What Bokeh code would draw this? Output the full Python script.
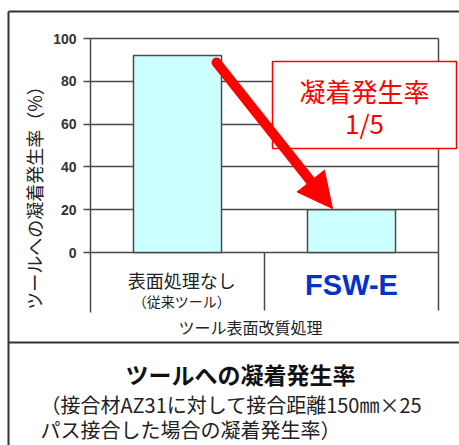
import math
from bokeh.plotting import figure
from bokeh.models import Range1d, LinearAxis, FixedTicker, Grid, Arrow, NormalHead
from bokeh.core.properties import value
from bokeh.embed import file_html
from bokeh.resources import INLINE

# ---------------- data ----------------
categories = ["表面処理なし", "FSW-E"]
category_notes = ["（従来ツール）", ""]
rates = [92, 20]
y_ticks = [0, 20, 40, 60, 80, 100]
y_label = "ツールへの凝着発生率（%）"
x_label = "ツール表面改質処理"
callout = ["凝着発生率", "1/5"]
title = "ツールへの凝着発生率"
subtitle = ["（接合材AZ31に対して接合距離150㎜×25", "パス接合した場合の凝着発生率）"]

# ---------------- geometry ----------------
W, H = 459, 445
X0, X1 = 90, 438      # pixel columns of plot area
Y0, Y100 = 252, 38    # pixel rows of value 0 and 100
n = len(categories)
sx = (X1 - X0) / n
sy = (Y0 - Y100) / 100.0


def dx(px):
    return (px - X0) / sx


def dy(py):
    return (Y0 - py) / sy


JP = value("Noto Sans CJK JP")
FRAME = "#4a4a4a"

p = figure(width=W, height=H, x_range=Range1d(dx(0), dx(W)), y_range=Range1d(dy(H), dy(0)),
           x_axis_type=None, y_axis_type=None, toolbar_location=None,
           output_backend="svg", min_border=0, title=None)
p.outline_line_color = None
p.background_fill_color = "white"
p.border_fill_color = "white"

# gridlines
grid = Grid(dimension=1, ticker=FixedTicker(ticks=y_ticks), cross_bounds=(0, n),
            grid_line_color=FRAME, grid_line_width=1.5)
p.add_layout(grid)

# y axis
yax = LinearAxis(fixed_location=0, bounds=(dy(312), y_ticks[-1]),
                 ticker=FixedTicker(ticks=y_ticks),
                 major_tick_out=7, major_tick_in=0, minor_tick_out=0, minor_tick_in=0,
                 axis_line_color=FRAME, axis_line_width=1.5,
                 major_tick_line_color=FRAME, major_tick_line_width=1.5,
                 major_label_standoff=7,
                 major_label_text_font="Liberation Sans",
                 major_label_text_font_style="bold",
                 major_label_text_font_size="14px",
                 major_label_text_color="#333333")
p.add_layout(yax, "left")

# category dividers and right edge
p.segment(x0=list(range(1, n + 1)), x1=list(range(1, n + 1)),
          y0=[0] * (n - 1) + [y_ticks[-1]], y1=[dy(310)] * n,
          line_color=FRAME, line_width=1.5)

# outer box
p.segment(x0=[dx(8), dx(8), dx(8)], y0=[dy(11), dy(11), dy(342)],
          x1=[dx(W), dx(8), dx(W)], y1=[dy(11), dy(H), dy(342)],
          line_color="#333333", line_width=2)

# bars
xs = [i + 0.5 for i in range(n)]
p.vbar(x=xs, top=rates, bottom=0, width=0.506, fill_color="#ccffff",
       line_color=FRAME, line_width=1.5)

# callout box
p.quad(left=[dx(272)], right=[dx(456)], top=[dy(61)], bottom=[dy(148)],
       fill_color="white", line_color="#ff0000", line_width=1.5)

# arrow
sxp, syp, exp_, eyp = 216, 62, 332, 208
L = math.hypot(exp_ - sxp, eyp - syp)
hs = 35
bx = exp_ - hs * (exp_ - sxp) / L
by = eyp - hs * (eyp - syp) / L
p.segment(x0=[dx(sxp)], y0=[dy(syp)], x1=[dx(bx)], y1=[dy(by)],
          line_color="#ff0000", line_width=10, line_cap="round")
p.add_layout(Arrow(end=NormalHead(size=hs, fill_color="#ff0000", line_color="#ff0000", line_width=1),
                   x_start=dx(sxp), y_start=dy(syp), x_end=dx(exp_), y_end=dy(eyp),
                   line_alpha=0))

# callout text
p.text(x=[dx(364), dx(364)], y=[dy(90), dy(122)], text=callout, text_font=JP,
       text_font_size="26px", text_color="#ff0000", text_align="center", text_baseline="middle")

# category labels
p.text(x=[xs[0] + 0.025], y=[dy(279)], text=[categories[0]], text_font=JP,
       text_font_size="18px", text_color="#222222", text_align="center", text_baseline="middle")
p.text(x=[xs[0] + 0.025], y=[dy(300)], text=[category_notes[0]], text_font=JP,
       text_font_size="14px", text_color="#222222", text_align="center", text_baseline="middle")
p.text(x=[xs[1]], y=[dy(284)], text=[categories[1]], text_font=value("Liberation Sans"),
       text_font_style="bold", text_font_size="29px", text_color="#0033cc",
       text_align="center", text_baseline="middle")

# axis titles
p.text(x=[dx(250)], y=[dy(326)], text=[x_label], text_font=JP, text_font_size="16px",
       text_color="#222222", text_align="center", text_baseline="middle")
p.text(x=[dx(33)], y=[dy(193)], text=[y_label], text_font=JP, text_font_size="18px",
       text_color="#222222", text_align="center", text_baseline="middle", angle=math.pi / 2)

# caption
p.text(x=[dx(240)], y=[dy(373)], text=[title], text_font=JP, text_font_style="bold",
       text_font_size="23px", text_color="#111111", text_align="center", text_baseline="middle")
p.text(x=[dx(40), dx(40)], y=[dy(404), dy(429)], text=subtitle, text_font=JP,
       text_font_size="20px", text_color="#222222", text_align="left", text_baseline="middle")

open("out.html", "w").write(file_html(p, INLINE))
